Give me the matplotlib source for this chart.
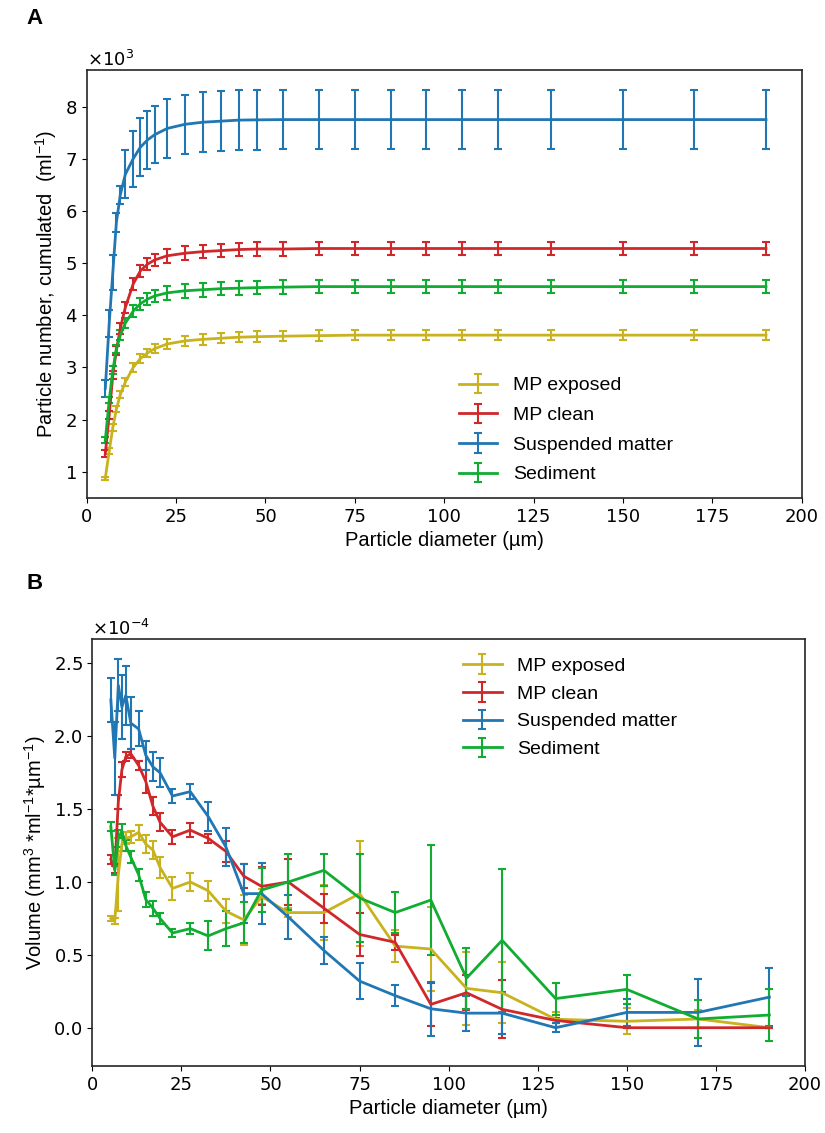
import matplotlib
matplotlib.use("Agg")
from matplotlib import pyplot as plt
from matplotlib.ticker import ScalarFormatter
import numpy as np

# particle diameter (um), bin centres
diam = [5.2, 6.3, 7.3, 8.3, 9.4, 10.8, 13, 15, 17, 19, 22.5, 27.5, 32.5, 37.5,
        42.5, 47.5, 55, 65, 75, 85, 95, 105, 115, 130, 150, 170, 190]

labels = ["MP exposed", "MP clean", "Suspended matter", "Sediment"]
colors = ["#c8b21e", "#d0282a", "#2077b4", "#10ad32"]

# panel A: cumulated particle number (x 10^3 per ml)
cum_exposed = [0.88, 1.40, 1.85, 2.20, 2.48, 2.72, 3.00, 3.17, 3.28, 3.36, 3.45, 3.51, 3.54, 3.56,
               3.58, 3.59, 3.60, 3.61, 3.62, 3.62, 3.62, 3.62, 3.62, 3.62, 3.62, 3.62, 3.62]
cum_exposed_err = [0.03, 0.05, 0.06, 0.06, 0.07, 0.07, 0.08, 0.08, 0.08, 0.09, 0.09, 0.09, 0.10, 0.10,
                   0.10, 0.10, 0.10, 0.10, 0.10, 0.10, 0.10, 0.10, 0.10, 0.10, 0.10, 0.10, 0.10]
cum_clean = [1.35, 2.09, 2.85, 3.33, 3.75, 4.15, 4.60, 4.85, 4.98, 5.06, 5.14, 5.19, 5.22, 5.24,
             5.26, 5.27, 5.27, 5.28, 5.28, 5.28, 5.28, 5.28, 5.28, 5.28, 5.28, 5.28, 5.28]
cum_clean_err = [0.06, 0.07, 0.08, 0.09, 0.10, 0.10, 0.11, 0.12, 0.12, 0.12, 0.13, 0.13, 0.13, 0.13,
                 0.13, 0.13, 0.13, 0.13, 0.13, 0.13, 0.13, 0.13, 0.13, 0.13, 0.13, 0.13, 0.13]
cum_susp = [2.60, 3.85, 4.82, 5.78, 6.31, 6.70, 7.00, 7.22, 7.36, 7.46, 7.58, 7.66, 7.70, 7.72,
            7.74, 7.745, 7.75, 7.75, 7.75, 7.75, 7.75, 7.75, 7.75, 7.75, 7.75, 7.75, 7.75]
cum_susp_err = [0.16, 0.26, 0.34, 0.18, 0.17, 0.46, 0.54, 0.56, 0.55, 0.55, 0.57, 0.57, 0.57, 0.57,
                0.57, 0.57, 0.57, 0.57, 0.57, 0.57, 0.57, 0.57, 0.57, 0.57, 0.57, 0.57, 0.57]
cum_sed = [1.61, 2.37, 2.95, 3.35, 3.62, 3.85, 4.08, 4.22, 4.31, 4.37, 4.43, 4.47, 4.49, 4.51,
           4.52, 4.53, 4.54, 4.55, 4.55, 4.55, 4.55, 4.55, 4.55, 4.55, 4.55, 4.55, 4.55]
cum_sed_err = [0.05, 0.06, 0.07, 0.08, 0.09, 0.10, 0.11, 0.12, 0.12, 0.12, 0.13, 0.13, 0.13, 0.13,
               0.13, 0.13, 0.13, 0.13, 0.13, 0.13, 0.13, 0.13, 0.13, 0.13, 0.13, 0.13, 0.13]

# panel B: volume (x 10^-4 mm3 per ml per um)
vol_exposed = [0.75, 0.73, 1.05, 1.26, 1.30, 1.31, 1.34, 1.26, 1.22, 1.10, 0.956, 1.00, 0.94, 0.80,
               0.74, 0.90, 0.79, 0.79, 0.92, 0.56, 0.54, 0.27, 0.24, 0.058, 0.044, 0.06, 0.0]
vol_exposed_err = [0.02, 0.02, 0.25, 0.05, 0.04, 0.04, 0.05, 0.06, 0.06, 0.07, 0.08, 0.06, 0.07, 0.08,
                   0.17, 0.05, 0.03, 0.19, 0.36, 0.11, 0.285, 0.25, 0.21, 0.05, 0.09, 0.06, 0.0]
vol_clean = [1.155, 1.09, 1.55, 1.77, 1.86, 1.88, 1.80, 1.69, 1.52, 1.41, 1.31, 1.356, 1.30, 1.21,
             1.04, 0.97, 1.00, 0.82, 0.64, 0.586, 0.16, 0.24, 0.126, 0.05, 0.0, 0.0, 0.0]
vol_clean_err = [0.03, 0.03, 0.05, 0.05, 0.03, 0.03, 0.03, 0.08, 0.06, 0.06, 0.05, 0.05, 0.03, 0.07,
                 0.08, 0.13, 0.16, 0.10, 0.15, 0.05, 0.15, 0.12, 0.20, 0.02, 0.0, 0.0, 0.0]
vol_susp = [2.25, 1.85, 2.35, 2.20, 2.28, 2.09, 2.05, 1.87, 1.79, 1.75, 1.59, 1.62, 1.45, 1.24,
            0.92, 0.92, 0.76, 0.53, 0.32, 0.22, 0.13, 0.10, 0.10, 0.0, 0.105, 0.105, 0.21]
vol_susp_err = [0.15, 0.25, 0.18, 0.22, 0.20, 0.18, 0.12, 0.10, 0.10, 0.10, 0.05, 0.05, 0.10, 0.13,
                0.20, 0.21, 0.15, 0.09, 0.125, 0.07, 0.185, 0.12, 0.145, 0.03, 0.095, 0.23, 0.20]
vol_sed = [1.38, 1.08, 1.30, 1.35, 1.25, 1.17, 1.05, 0.88, 0.82, 0.75, 0.65, 0.68, 0.63, 0.68,
           0.72, 0.945, 1.00, 1.08, 0.89, 0.79, 0.876, 0.34, 0.60, 0.20, 0.263, 0.06, 0.087]
vol_sed_err = [0.03, 0.03, 0.06, 0.05, 0.04, 0.04, 0.04, 0.05, 0.05, 0.04, 0.03, 0.04, 0.10, 0.12,
               0.14, 0.15, 0.19, 0.11, 0.30, 0.14, 0.38, 0.21, 0.49, 0.11, 0.10, 0.13, 0.18]

sans = ["Liberation Sans", "DejaVu Sans"]
plt.rcParams["xtick.labelsize"] = 13
plt.rcParams["ytick.labelsize"] = 13

fig = plt.figure(figsize=(8.25, 11.33), dpi=100)
axA = fig.add_axes([0.1051, 0.5605, 0.8667, 0.3777])
axB = fig.add_axes([0.1119, 0.0591, 0.8639, 0.3766])

cum = [(cum_exposed, cum_exposed_err), (cum_clean, cum_clean_err),
       (cum_susp, cum_susp_err), (cum_sed, cum_sed_err)]
vol = [(vol_exposed, vol_exposed_err), (vol_clean, vol_clean_err),
       (vol_susp, vol_susp_err), (vol_sed, vol_sed_err)]

for (y, e), lab, c in zip(cum, labels, colors):
    axA.errorbar(diam, np.array(y) * 1e3, yerr=np.array(e) * 1e3, color=c, lw=2,
                 elinewidth=1.5, capsize=3, capthick=1.5, label=lab)
for (y, e), lab, c in zip(vol, labels, colors):
    axB.errorbar(diam, np.array(y) * 1e-4, yerr=np.array(e) * 1e-4, color=c, lw=2,
                 elinewidth=1.5, capsize=3, capthick=1.5, label=lab)

axA.set_xlim(0, 200)
axA.set_ylim(0.5e3, 8.7e3)
axA.set_yticks(np.arange(1, 9) * 1e3)
axB.set_xlim(0, 200)
axB.set_ylim(-0.263e-4, 2.665e-4)
axB.set_yticks(np.arange(0, 2.6, 0.5) * 1e-4)

for ax in (axA, axB):
    fmt = ScalarFormatter(useMathText=True)
    fmt.set_powerlimits((0, 0))
    ax.yaxis.set_major_formatter(fmt)
    ax.yaxis.get_offset_text().set_fontsize(13)
    ax.set_xticks(np.arange(0, 201, 25))
    ax.set_xlabel("Particle diameter (µm)", family=sans, fontsize=14.5)
    for s in ax.spines.values():
        s.set_linewidth(1.2)
        s.set_color("#262626")

axA.set_ylabel("Particle number, cumulated  (ml$\\mathregular{^{-1}}$)", family=sans, fontsize=14.5)
axB.set_ylabel("Volume (mm$\\mathregular{^{3}}$ *ml$\\mathregular{^{-1}}$*µm$\\mathregular{^{-1}}$)",
               family=sans, fontsize=14.5)

axA.legend(loc="upper left", bbox_to_anchor=(0.52, 0.283), frameon=False, borderpad=0,
           borderaxespad=0, labelspacing=0.62, prop={"family": sans, "size": 14})
axB.legend(loc="upper left", bbox_to_anchor=(0.52, 0.958), frameon=False, borderpad=0,
           borderaxespad=0, labelspacing=0.52, prop={"family": sans, "size": 14})

fig.text(0.0424, 0.984, "A", family=sans, fontsize=16, fontweight="bold", ha="center", va="center")
fig.text(0.0424, 0.485, "B", family=sans, fontsize=16, fontweight="bold", ha="center", va="center")

plt.savefig("out.png", dpi=100)
